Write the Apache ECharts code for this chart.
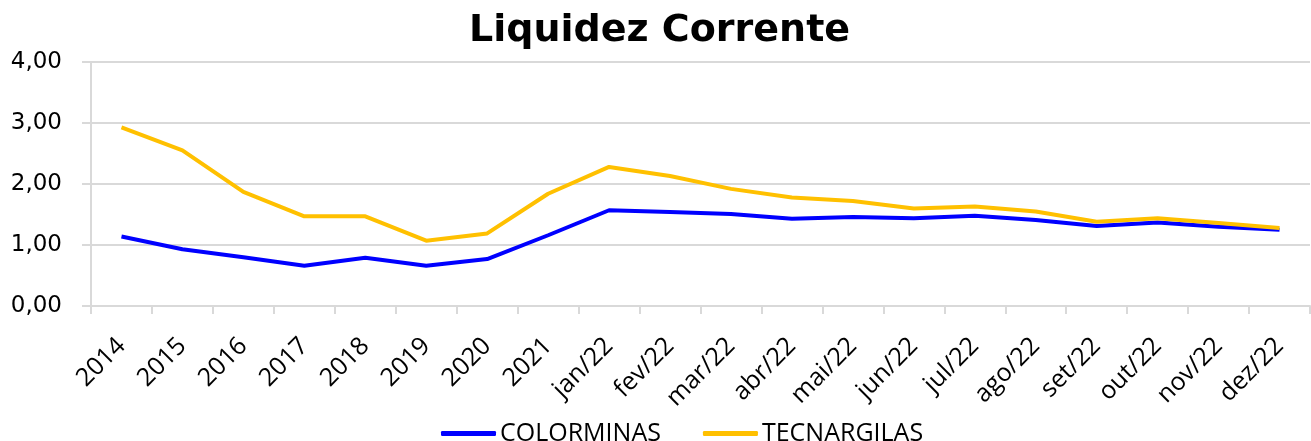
<!DOCTYPE html>
<html>
<head>
<meta charset="utf-8">
<script src="https://cdn.jsdelivr.net/npm/echarts@6/dist/echarts.min.js"></script>
<style>
  html, body { margin: 0; padding: 0; background: #fff; }
  #myChart { width: 1311px; height: 441px; }
</style>
</head>
<body>
<div id="myChart"></div>
<script>
// categorias do eixo x
const categorias = ["2014", "2015", "2016", "2017", "2018", "2019", "2020", "2021",
  "jan/22", "fev/22", "mar/22", "abr/22", "mai/22", "jun/22", "jul/22",
  "ago/22", "set/22", "out/22", "nov/22", "dez/22"];

// liquidez corrente por empresa
const colorminas = [1.14, 0.93, 0.80, 0.66, 0.79, 0.66, 0.77, 1.16,
  1.57, 1.54, 1.51, 1.43, 1.46, 1.44, 1.48, 1.41, 1.31, 1.37, 1.30, 1.25];
const tecnargilas = [2.93, 2.55, 1.87, 1.47, 1.47, 1.07, 1.19, 1.84,
  2.28, 2.13, 1.92, 1.78, 1.72, 1.60, 1.63, 1.55, 1.38, 1.44, 1.36, 1.28];

const yMin = 0, yMax = 4, yStep = 1;

const fonteTexto = '"Open Sans", sans-serif';
const corGrade = "#d9d9d9";

let myChart = echarts.init(document.getElementById("myChart"));
myChart.setOption({
  animation: false,
  title: {
    text: "Liquidez Corrente",
    left: 464,
    top: 7,
    textStyle: {
      fontFamily: "DejaVu Sans",
      fontWeight: "bold",
      fontSize: 38,
      color: "#000",
    },
  },
  legend: {
    top: 416,
    left: 436,
    itemWidth: 55,
    itemHeight: 5,
    itemGap: 42,
    icon: "roundRect",
    textStyle: { fontFamily: fonteTexto, fontSize: 25, color: "#000", padding: [0, 0, 0, -1] },
    data: ["COLORMINAS", "TECNARGILAS"],
  },
  grid: {
    left: 91,
    right: 1,
    top: 62,
    bottom: 135,
  },
  xAxis: {
    type: "category",
    data: categorias,
    boundaryGap: true,
    axisLine: { lineStyle: { color: corGrade, width: 2 } },
    axisTick: { show: true, length: 8, lineStyle: { color: corGrade, width: 2 } },
    axisLabel: {
      rotate: 45,
      interval: 0,
      margin: 36,
      fontFamily: fonteTexto,
      fontSize: 25,
      color: "#000",
    },
  },
  yAxis: {
    type: "value",
    min: yMin,
    max: yMax,
    interval: yStep,
    axisLine: { show: true, lineStyle: { color: corGrade, width: 2 } },
    axisTick: { show: true, length: 9, lineStyle: { color: corGrade, width: 2 } },
    splitLine: { lineStyle: { color: corGrade, width: 2 } },
    axisLabel: {
      margin: 29,
      fontFamily: "DejaVu Sans",
      fontSize: 23,
      color: "#000",
      formatter: (v) => v.toFixed(2).replace(".", ","),
    },
  },
  series: [
    {
      name: "COLORMINAS",
      type: "line",
      data: colorminas,
      symbol: "none",
      itemStyle: { color: "#0000ff" },
      lineStyle: { color: "#0000ff", width: 4 },
    },
    {
      name: "TECNARGILAS",
      type: "line",
      data: tecnargilas,
      symbol: "none",
      itemStyle: { color: "#ffc000" },
      lineStyle: { color: "#ffc000", width: 4 },
    },
  ],
});
</script>
</body>
</html>
